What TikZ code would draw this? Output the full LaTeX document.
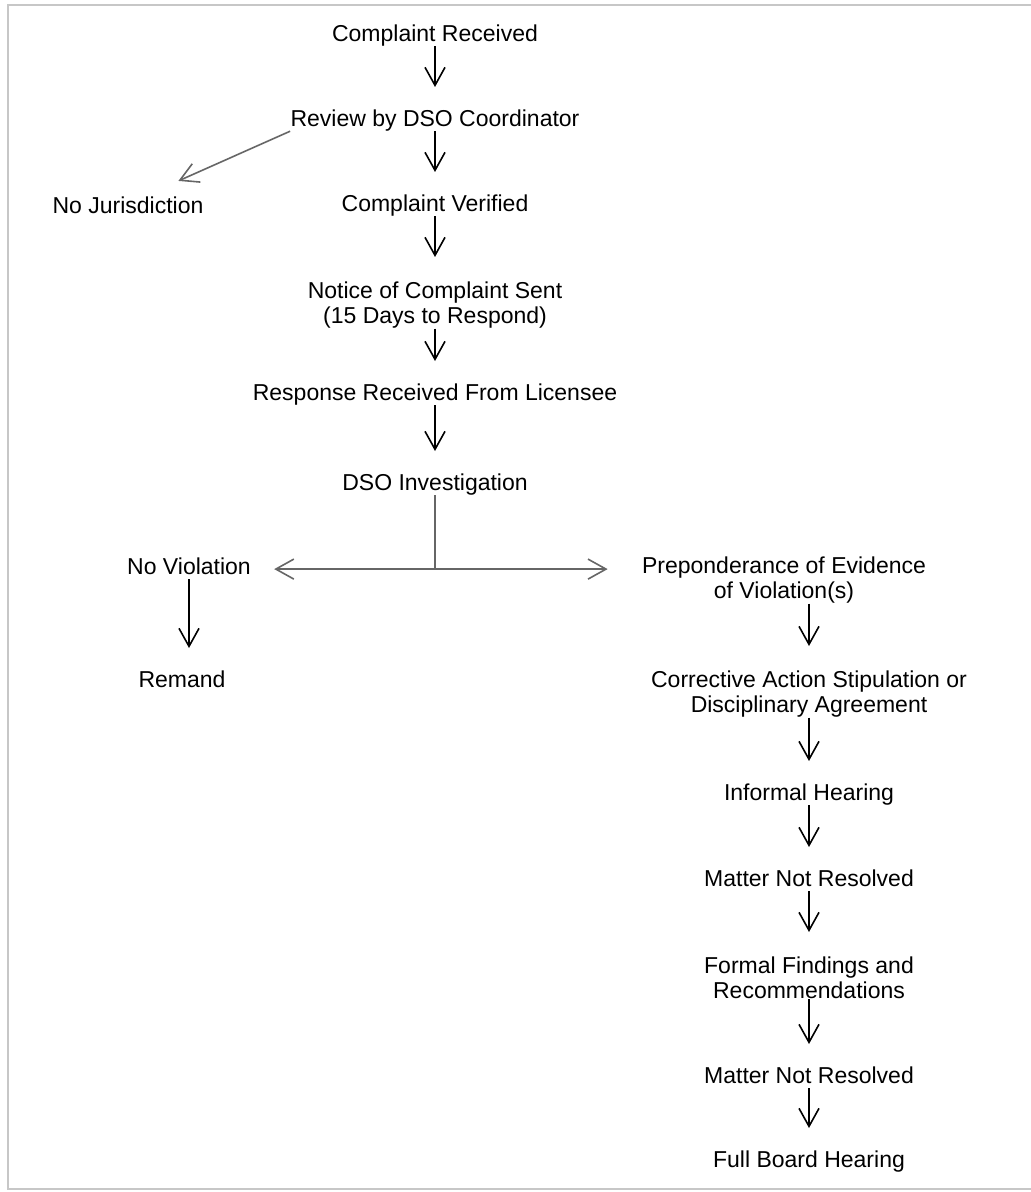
\documentclass[tikz,border=0pt]{standalone}
\usepackage{fontspec}
\setmainfont{Liberation Sans}
\usetikzlibrary{arrows.meta}

\begin{document}
\begin{tikzpicture}[x=0.5pt,y=-0.5pt,
  >={Straight Barb[length=9pt,width=10pt]},
  every node/.style={font=\fontsize{11.5}{12.75}\selectfont, inner sep=0pt, anchor=north},
  stage/.style={text height=0.75em, text depth=0.22em},
  twoline/.style={align=center},
  flow/.style={->, line width=0.8pt, shorten >=12pt},
  side/.style={line width=0.8pt, black!60}]
\useasboundingbox (0,0) rectangle (1031,1192);
\draw[black!22, line width=1pt] (1031,5) -- (8,5) -- (8,1189) -- (1031,1189);

\node[stage] (cr) at (435,26) {Complaint Received};
\node[stage] (rv) at (435,111) {Review by DSO Coordinator};
\node[stage] (nj) at (128,198) {No Jurisdiction};
\node[stage] (cv) at (435,196) {Complaint Verified};
\node[twoline] (nc) at (435,281) {Notice of Complaint Sent\\(15 Days to Respond)};
\node[stage] (rr) at (435,385) {Response Received From Licensee};
\node[stage] (di) at (435,475) {DSO Investigation};
\node[stage] (nv) at (189,559) {No Violation};
\node[stage] (rm) at (182,672) {Remand};
\node[twoline] (pe) at (784,556) {Preponderance of Evidence\\of Violation(s)};
\node[twoline] (ca) at (809,670) {Corrective Action Stipulation or\\Disciplinary Agreement};
\node[stage] (ih) at (809,785) {Informal Hearing};
\node[stage] (mr1) at (809,871) {Matter Not Resolved};
\node[twoline] (ff) at (809,956) {Formal Findings and\\Recommendations};
\node[stage] (mr2) at (809,1068) {Matter Not Resolved};
\node[stage] (fb) at (809,1152) {Full Board Hearing};

\draw[flow] (cr.south) -- (rv.north);
\draw[flow] (rv.south) -- (cv.north);
\draw[side,->,shorten >=21pt] (rv.south west) -- ([xshift=6pt]nj.north);
\draw[flow] (cv.south) -- (nc.north);
\draw[flow] (nc.south) -- (rr.north);
\draw[flow] (rr.south) -- (di.north);

\coordinate (split) at (di.south |- nv.east);
\draw[side] (di.south) -- (split);
\draw[side,->,shorten >=11.5pt] (split) -- (nv.east);
\draw[side,->,shorten >=17pt] (split) -- (split -| pe.west);
\draw[flow] (nv.south) -- (nv.south |- rm.north);

\draw[flow] (pe.south -| ca.north) -- (ca.north);
\draw[flow] (ca.south) -- (ih.north);
\draw[flow] (ih.south) -- (mr1.north);
\draw[flow] (mr1.south) -- (ff.north);
\draw[flow] (ff.south) -- (mr2.north);
\draw[flow] (mr2.south) -- (fb.north);
\end{tikzpicture}
\end{document}
